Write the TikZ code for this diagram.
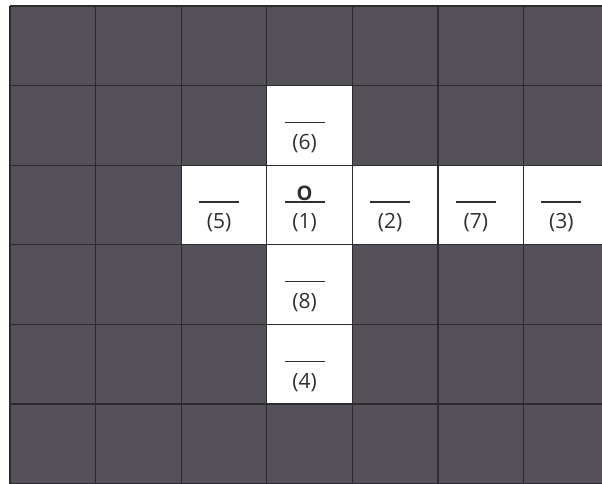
\documentclass[tikz,border=0pt]{standalone}
\usepackage{fontspec}
\setmainfont{Open Sans}
\usetikzlibrary{positioning}

\definecolor{cellgray}{RGB}{84,82,88}
\definecolor{rulegray}{RGB}{44,43,48}
\definecolor{inkgray}{RGB}{48,48,52}

\begin{document}
\begin{tikzpicture}[
  x=1pt, y=-1pt,
  opencell/.style={fill=white, draw=none, minimum width=85.6pt, minimum height=79.6pt,
                   inner sep=0pt, outer sep=0pt},
  blank/.style={draw=inkgray, line width=1.1pt},
  tag/.style={font=\fontsize{21}{21}\selectfont, text=inkgray, inner sep=0pt},
  letter/.style={font=\fontsize{20}{20}\selectfont\bfseries, text=inkgray, inner sep=0pt},
  rule/.style={draw=rulegray, line width=1.1pt}]
\useasboundingbox (0,0) rectangle (602,484);
\clip (0,0) rectangle (602,484);
% dark board
\fill[cellgray] (10,6) rectangle (610,490);
% open squares with their blanks
\foreach \nm/\col/\row/\lab in {c6/3/1/6, c5/2/2/5, c1/3/2/1, c2/4/2/2,
                                c7/5/2/7, c3/6/2/3, c8/3/3/8, c4/3/4/4} {
  \node[opencell] (\nm) at ({10+85.6*(\col+0.5)},{6+79.6*(\row+0.5)}) {};
  \draw[blank] ([xshift=-25pt,yshift=3pt]\nm.center) -- ([xshift=15pt,yshift=3pt]\nm.center);
  \node[tag] (\nm-lab) at ([xshift=-5pt,yshift=-18pt]\nm.center) {(\lab)};
}
\node[letter] (c1-ans) at ([xshift=-5pt,yshift=12pt]c1.center) {O};
% grid
\foreach \i in {0,...,7}
  \draw[rule] ({10+85.6*\i},6) -- ({10+85.6*\i},490);
\foreach \j in {0,...,6}
  \draw[rule] (10,{6+79.6*\j}) -- (610,{6+79.6*\j});
\end{tikzpicture}
\end{document}
